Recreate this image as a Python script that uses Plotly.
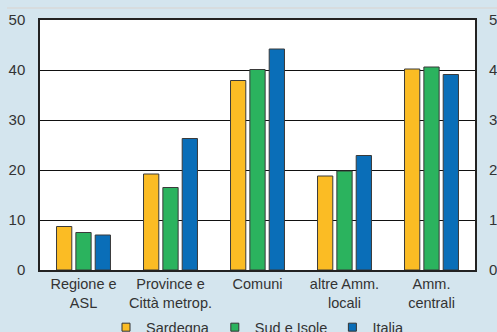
import plotly.graph_objects as go

categories = ["Regione e<br>ASL", "Province e<br>Città metrop.", "Comuni", "altre Amm.<br>locali", "Amm.<br>centrali"]
sardegna = [8.7, 19.2, 37.9, 18.8, 40.2]
sud_isole = [7.5, 16.5, 40.1, 19.8, 40.6]
italia = [7.0, 26.3, 44.2, 22.9, 39.1]
series_names = ["Sardegna", "Sud e Isole", "Italia"]
colors = ["#FBBC24", "#2BB35E", "#0A6EB8"]
y_ticks = [0, 10, 20, 30, 40, 50]

BG = "#D4E5EE"
TXT = "#333333"
FONT = "Liberation Sans, Arial, sans-serif"

fig = go.Figure()
for name, vals, col in zip(series_names, [sardegna, sud_isole, italia], colors):
    fig.add_trace(go.Bar(
        x=categories, y=vals, name=name,
        marker=dict(color=col, line=dict(color="#3a3a3a", width=1)),
        showlegend=False,
    ))
    # legend entries with small square markers
    fig.add_trace(go.Scatter(
        x=[None], y=[None], mode="markers", name=name,
        marker=dict(symbol="square", size=8, color=col, line=dict(color="#333333", width=1)),
        showlegend=True,
    ))

# invisible trace to activate the right-hand axis
fig.add_trace(go.Scatter(x=[categories[0]], y=[0], yaxis="y2", mode="markers",
                         marker=dict(opacity=0), showlegend=False, hoverinfo="skip"))

fig.update_layout(
    width=497, height=332,
    margin=dict(l=40, r=22, t=20, b=62, autoexpand=False),
    paper_bgcolor=BG, plot_bgcolor="white",
    font=dict(family=FONT, size=15, color=TXT),
    barmode="group", bargap=0.333, bargroupgap=0.21,
    xaxis=dict(
        showline=True, linecolor="#222222", linewidth=1.5, mirror=True,
        ticks="", tickfont=dict(size=14.5, color=TXT), showgrid=False,
        automargin=False,
    ),
    yaxis=dict(
        range=[0, 50], tickvals=y_ticks, showgrid=True, gridcolor="#111111", gridwidth=1,
        showline=True, linecolor="#222222", linewidth=1.5, mirror=True,
        zeroline=False, ticks="", ticklabelstandoff=10,
        tickfont=dict(size=15, color=TXT), automargin=False,
    ),
    yaxis2=dict(
        range=[0, 50], tickvals=y_ticks, overlaying="y", side="right",
        showgrid=False, zeroline=False, showline=False, ticks="", ticklabelstandoff=13,
        tickfont=dict(size=15, color=TXT), automargin=False,
    ),
    legend=dict(
        orientation="h", x=0.5, xanchor="center", y=-0.165, yanchor="top",
        font=dict(size=14.5, color=TXT), bgcolor="rgba(0,0,0,0)",
        itemwidth=30, tracegroupgap=0,
    ),
    shapes=[dict(type="line", xref="paper", yref="paper", x0=-0.076, x1=1.06,
                 y0=1.048, y1=1.048, line=dict(color="#D9D9D9", width=1.5))],
)

fig.write_html("out.html")
